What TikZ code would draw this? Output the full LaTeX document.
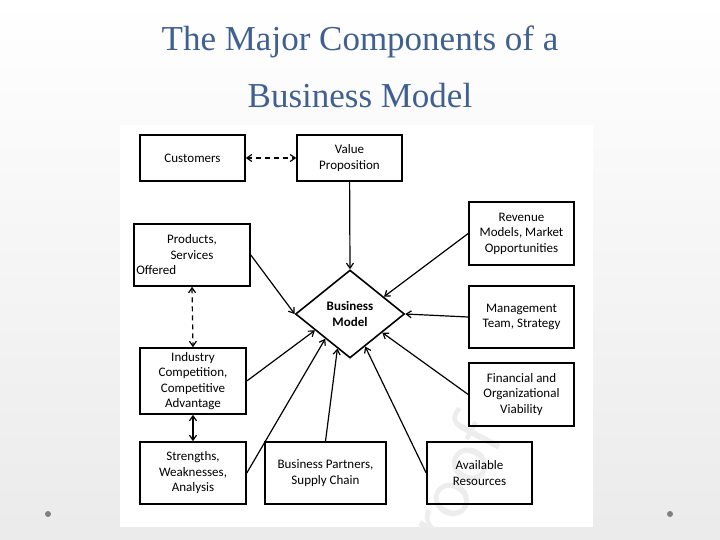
\documentclass[tikz,border=0pt]{standalone}
\usepackage{fontspec}
\setmainfont{Liberation Serif}
\newfontfamily\boxfont{Carlito}
\usetikzlibrary{shapes.geometric,arrows.meta}
\definecolor{titleblue}{HTML}{3F6090}
\begin{document}
\begin{tikzpicture}[x=1pt,y=-1pt,
  box/.style={draw,line width=1.6pt,align=center,font=\boxfont\fontsize{13}{15.5}\selectfont,inner sep=1pt},
  con/.style={line width=1.2pt,-{Straight Barb[length=5pt,width=7pt]}},
  dcon/.style={line width=1.2pt,dash pattern=on 5pt off 4pt,{Straight Barb[length=5pt,width=7pt]}-{Straight Barb[length=5pt,width=7pt]}}]
\shade[top color=white,bottom color=black!8] (0,0) rectangle (720,540);
\useasboundingbox (0,0) rectangle (720,540);
\fill[white] (120,125) rectangle (593,527);
\begin{scope}
\clip (120,125) rectangle (593,527);
\node[rotate=62,text=black!7,font=\sffamily\fontsize{80}{80}\selectfont] (wm) at (440,500) {Proof};
\end{scope}
\node[font=\fontsize{35}{57}\selectfont,text=titleblue,align=center] (title) at (360,67) {The Major Components of a\\Business Model};
\fill[gray] (48,514) circle (3);
\fill[gray] (670,514) circle (3);
\node[box,minimum width=105pt,minimum height=46pt] (cust) at (192.5,158) {Customers};
\node[box,minimum width=105pt,minimum height=46pt] (vp) at (349.5,158) {Value\\Proposition};
\node[box,minimum width=116pt,minimum height=62pt] (prod) at (192,255) {Products,\\Services\\\hspace*{-5.5em}Offered};
\node[box,minimum width=106pt,minimum height=66pt] (ind) at (193,381) {Industry\\Competition,\\Competitive\\Advantage};
\node[box,minimum width=106pt,minimum height=62pt] (swa) at (193,473) {Strengths,\\Weaknesses,\\Analysis};
\node[box,minimum width=105pt,minimum height=63pt] (rev) at (521.5,233.5) {Revenue\\Models, Market\\Opportunities};
\node[box,minimum width=105pt,minimum height=62pt] (mgmt) at (521.5,317) {Management\\Team, Strategy};
\node[box,minimum width=105pt,minimum height=63pt] (fin) at (521.5,394.5) {Financial and\\Organizational\\Viability};
\node[box,minimum width=121pt,minimum height=62pt] (part) at (325.5,473) {Business Partners,\\Supply Chain};
\node[box,minimum width=105pt,minimum height=62pt] (res) at (479.5,473) {Available\\Resources};
\node[draw,line width=1.6pt,diamond,minimum width=109pt,minimum height=88pt,inner sep=0pt,align=center,font=\boxfont\bfseries\fontsize{13}{15.5}\selectfont] (bm) at (350,314) {Business\\Model};
\draw[dcon] (cust) -- (vp);
\draw[dcon] (prod.south) -- (ind.north);
\draw[line width=1.2pt,{Straight Barb[length=5pt,width=7pt]}-{Straight Barb[length=5pt,width=7pt]}] (ind) -- (swa);
\draw[con] (vp) -- (bm.north);
\draw[con] (prod.east) -- (bm.west);
\draw[con] (ind.east) -- (bm.205);
\draw[con] (swa.east) -- (bm.225);
\draw[con] (part.north) -- (bm.250);
\draw[con] (res.west) -- (bm.295);
\draw[con] (fin.west) -- (bm.330);
\draw[con] (mgmt.west) -- (bm.east);
\draw[con] (rev.west) -- (bm.27);
\end{tikzpicture}
\end{document}
